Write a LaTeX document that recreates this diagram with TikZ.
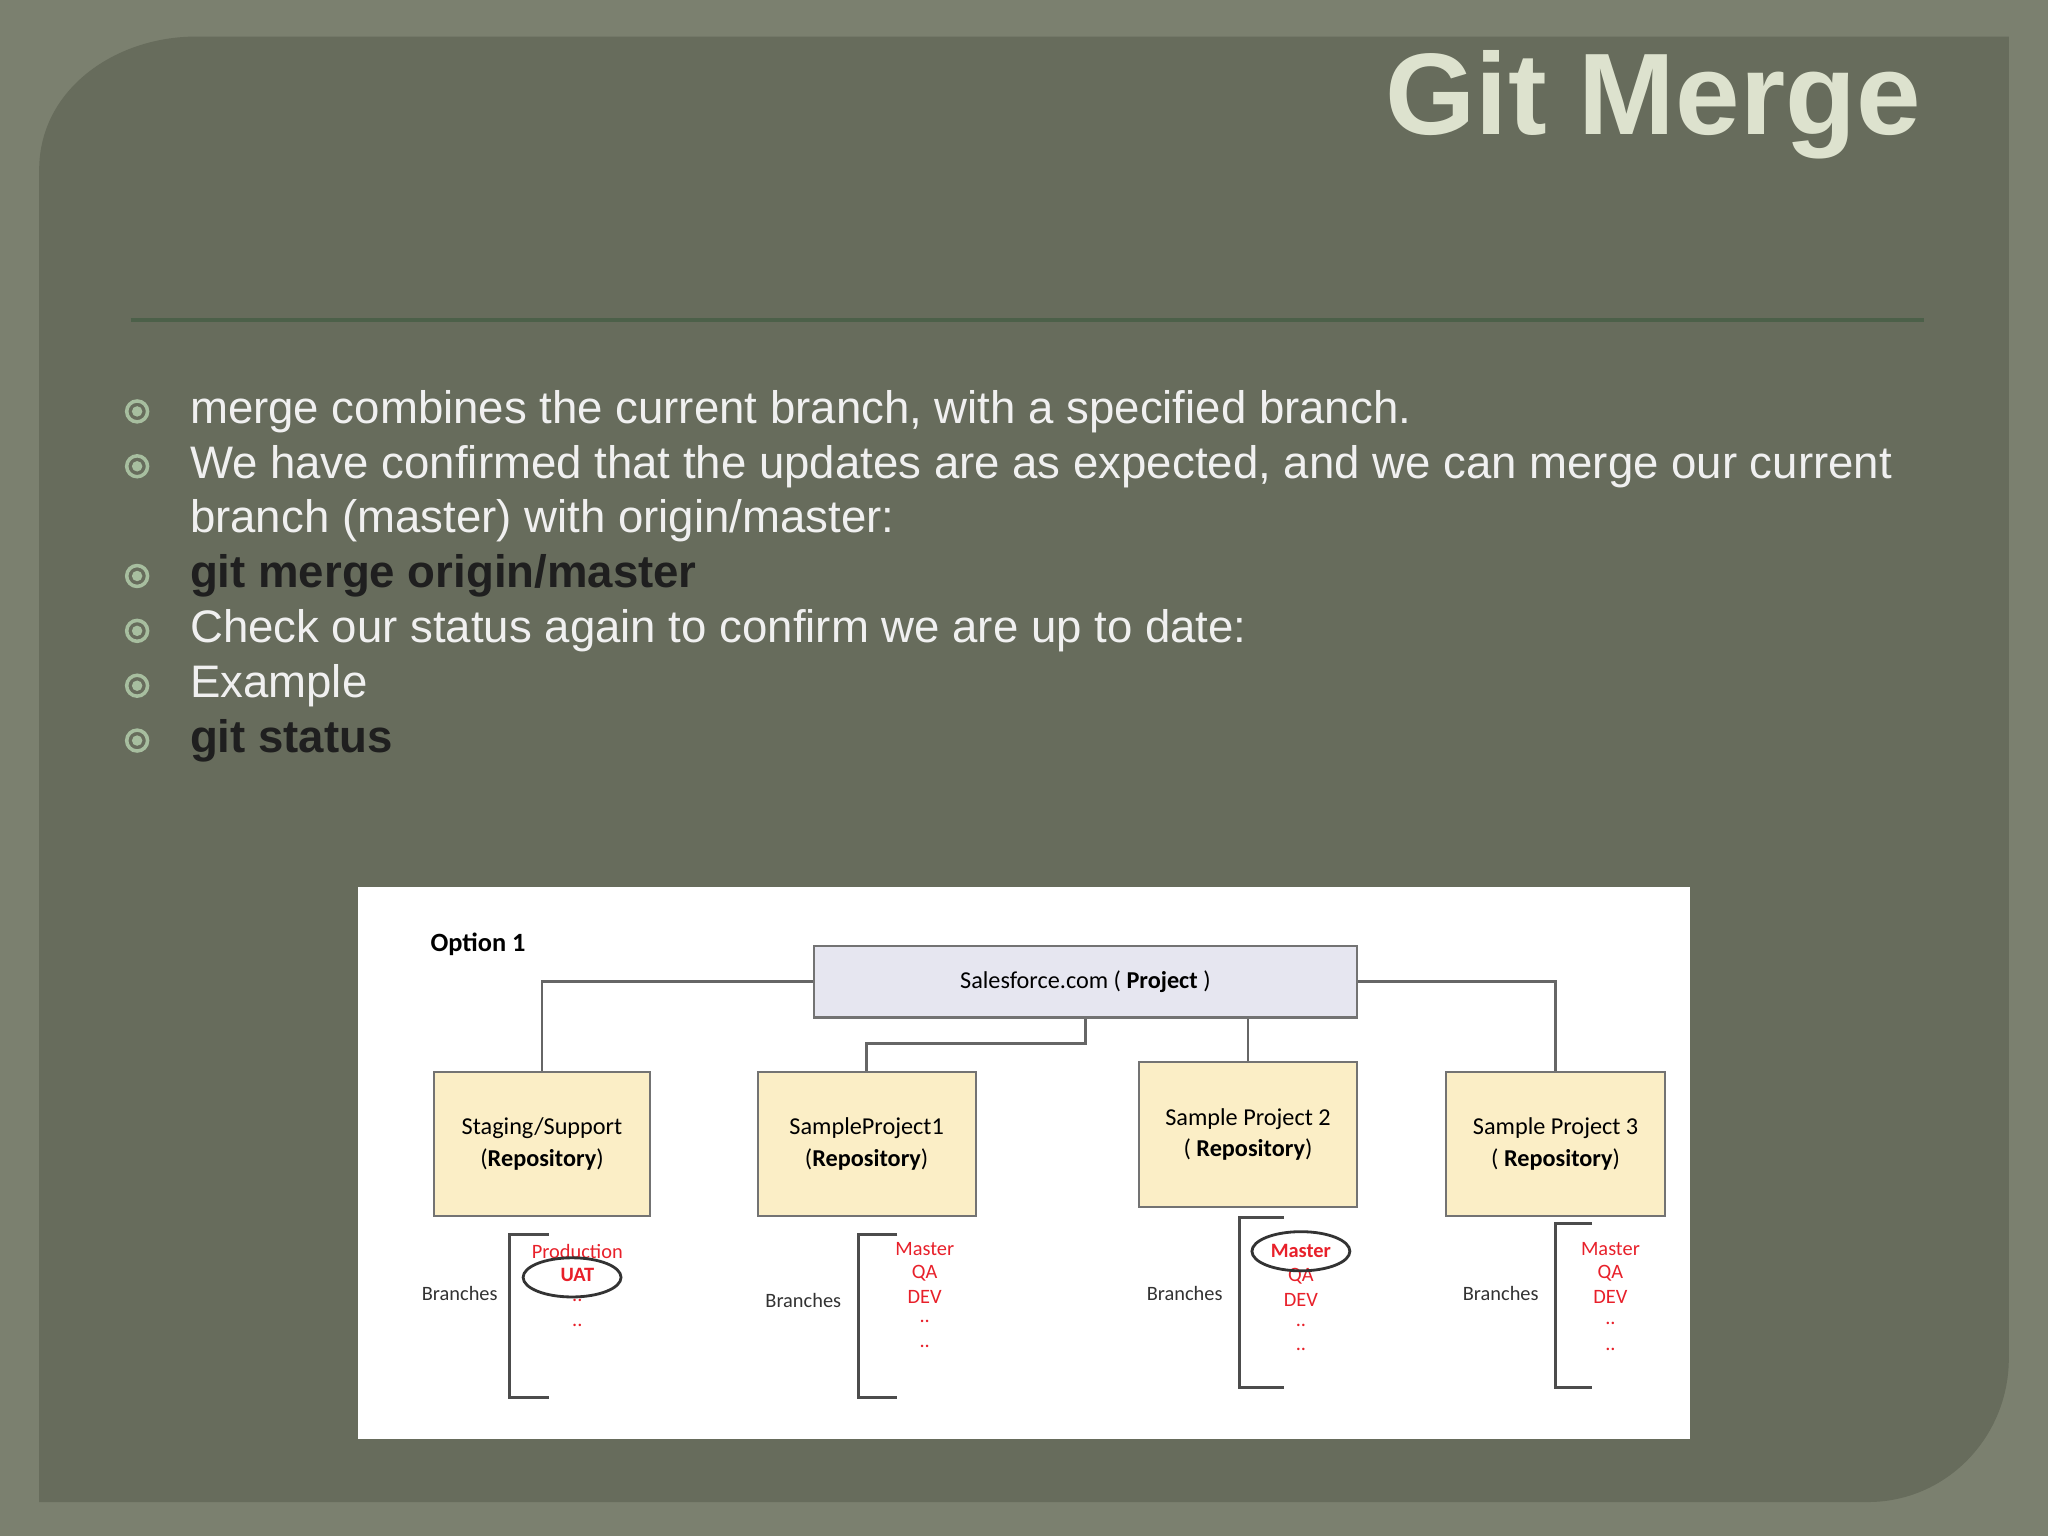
\documentclass[tikz,border=0pt]{standalone}
\usepackage{fontspec}
\setmainfont{Liberation Sans}
\newfontfamily\carlito{Carlito}
\usetikzlibrary{shapes.geometric}
\definecolor{outer}{HTML}{7B806F}
\definecolor{panel}{HTML}{676C5C}
\definecolor{ttl}{HTML}{DDE2CE}
\definecolor{rule}{HTML}{4C6049}
\definecolor{bul}{HTML}{A7BE9F}
\definecolor{boxy}{HTML}{FBEEC6}
\definecolor{boxb}{HTML}{E6E6F0}
\definecolor{rd}{HTML}{E8202A}
\begin{document}
\begin{tikzpicture}[x=0.013061cm,y=-0.013061cm,
  btxt/.style={anchor=base west,inner sep=0,text=white!94!black,font=\fontsize{12.97}{16}\selectfont},
  bbold/.style={anchor=base west,inner sep=0,text=black!88,font=\fontsize{12.97}{16}\selectfont\bfseries},
  box/.style={draw=black!55,line width=0.6pt,fill=boxy,align=center,font=\carlito\fontsize{6.9}{9}\selectfont,inner sep=0},
  lnk/.style={draw=black!60,line width=0.7pt},
  br/.style={draw=black!70,line width=0.8pt},
  lbl/.style={font=\carlito\fontsize{5.8}{7}\selectfont,text=black!80},
  red/.style={font=\carlito\fontsize{5.8}{7}\selectfont,text=rd,inner sep=0},
  ov/.style={ellipse,draw=black!80,line width=0.8pt,minimum width={75*0.3716pt},minimum height={30*0.3716pt}}]
\useasboundingbox (0,0) rectangle (1568,1176);
\fill[outer] (0,0) rectangle (1568,1176);
\fill[panel] (30,1150) -- (30,130) to[out=90,in=180] (150,28) -- (1538,28) -- (1538,1040) to[out=270,in=0] (1430,1150) -- cycle;
\node[anchor=east,inner sep=0,text=ttl,font=\fontsize{33}{38}\selectfont\bfseries] (title) at (1471,80) {Git Merge};
\draw[rule,line width=1.2pt] (100,245) -- (1473,245);
\foreach \y in {315,357,441,483,525,567}{
  \draw[bul,line width=1pt] (105,\y) circle (8);
  \fill[bul] (105,\y) circle (4);}
\node[btxt] (b1) at (145,324) {merge combines the current branch, with a specified branch.};
\node[btxt] (b2) at (145,366) {We have confirmed that the updates are as expected, and we can merge our current};
\node[btxt] (b2b) at (145,408) {branch (master) with origin/master:};
\node[bbold] (b3) at (145,450) {git merge origin/master};
\node[btxt] (b4) at (145,492) {Check our status again to confirm we are up to date:};
\node[btxt] (b5) at (145,534) {Example};
\node[bbold] (b6) at (145,576) {git status};
% diagram
\fill[white] (274,679) rectangle (1294,1102);
\node[font=\carlito\fontsize{7.5}{9}\selectfont\bfseries] (opt) at (366,723) {Option 1};
\node[box,fill=boxb,minimum width={416*0.3716pt},minimum height={55*0.3716pt}] (sf) at (831,751.5) {Salesforce.com ( \textbf{Project} )};
\node[box,minimum width={166*0.3716pt},minimum height={110*0.3716pt}] (st) at (415,876) {Staging/Support\\(\textbf{Repository})};
\node[box,minimum width={167*0.3716pt},minimum height={110*0.3716pt}] (p1) at (663.5,876) {SampleProject1\\(\textbf{Repository})};
\node[box,minimum width={167*0.3716pt},minimum height={111*0.3716pt}] (p2) at (955.5,868.5) {Sample Project 2\\( \textbf{Repository})};
\node[box,minimum width={168*0.3716pt},minimum height={110*0.3716pt}] (p3) at (1191,876) {Sample Project 3\\( \textbf{Repository})};
\draw[lnk] (sf.west) -| (st.north);
\draw[lnk] (sf.east) -| (p3.north);
\draw[lnk] (sf.south) -- (831,799) -| (p1.north);
\draw[lnk] (sf.south -| p2.north) -- (p2.north);
% brackets
\draw[br] (420,945) -- (390,945) -- (390,1070) -- (420,1070);
\draw[br] (687,945) -- (657,945) -- (657,1070) -- (687,1070);
\draw[br] (983,932) -- (949,932) -- (949,1062) -- (983,1062);
\draw[br] (1219,937) -- (1191,937) -- (1191,1062) -- (1219,1062);
\node[lbl] (l1) at (352,990) {Branches};
\node[lbl] (l2) at (615,996) {Branches};
\node[lbl] (l3) at (907,990) {Branches};
\node[lbl] (l4) at (1149,990) {Branches};
\node[red] (s1a) at (442,958) {Production};
\node[ov] (s1e) at (438,978) {};
\node[red,font=\carlito\fontsize{5.8}{7}\selectfont\bfseries] (s1b) at (442,976) {UAT};
\node[red] (s1c) at (442,996) {..};
\node[red] (s1d) at (442,1015) {..};
\node[red] (a1) at (708,956) {Master};
\node[red] (a2) at (708,975) {QA};
\node[red] (a3) at (708,993) {DEV};
\node[red] (a4) at (708,1012) {..};
\node[red] (a5) at (708,1031) {..};
\node[red] (c2) at (996,977) {QA};
\node[ov] (ce) at (996,958) {};
\node[red,font=\carlito\fontsize{5.8}{7}\selectfont\bfseries] (c1) at (996,958) {Master};
\node[red] (c3) at (996,995) {DEV};
\node[red] (c4) at (996,1015) {..};
\node[red] (c5) at (996,1033) {..};
\node[red] (d1) at (1233,956) {Master};
\node[red] (d2) at (1233,975) {QA};
\node[red] (d3) at (1233,993) {DEV};
\node[red] (d4) at (1233,1013) {..};
\node[red] (d5) at (1233,1033) {..};
\end{tikzpicture}
\end{document}
